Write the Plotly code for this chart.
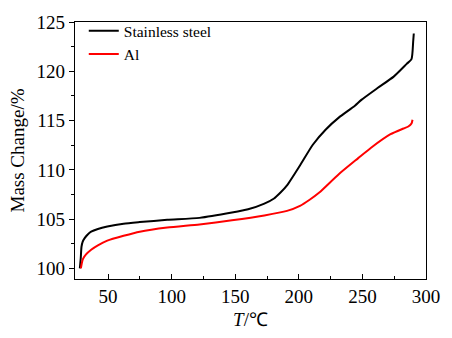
import plotly.graph_objects as go

# Stainless steel
ss_T = [27.8, 28.5, 29.1, 30.0, 31.6, 34.0, 36.7, 42.0, 49.4, 62.2, 74.9, 96.5,
        121.9, 147.4, 160.1, 172.9, 180.5, 185.6, 190.7, 200.9, 211.0, 221.2,
        231.4, 244.1, 249.2, 261.9, 274.6, 284.8, 288.6, 289.9, 290.4]
ss_M = [100.0, 101.0, 102.2, 102.7, 103.08, 103.45, 103.73, 104.0, 104.25, 104.54,
        104.70, 104.93, 105.13, 105.67, 106.0, 106.58, 107.1, 107.7, 108.43, 110.45,
        112.55, 114.1, 115.3, 116.5, 117.1, 118.3, 119.46, 120.75, 121.24, 123.0, 123.83]

# Al
al_T = [28.6, 29.3, 30.3, 32.5, 36.7, 42.0, 49.4, 62.2, 74.9, 96.5, 121.9, 147.4,
        172.9, 190.7, 200.9, 208.5, 216.1, 231.4, 246.7, 256.8, 272.1, 282.3, 286.1,
        288.6, 289.4]
al_M = [100.0, 100.5, 100.97, 101.4, 101.9, 102.35, 102.82, 103.31, 103.73, 104.15,
        104.47, 104.88, 105.38, 105.84, 106.35, 106.97, 107.7, 109.56, 111.19, 112.25,
        113.62, 114.2, 114.4, 114.7, 115.08]

x_ticks = [50, 100, 150, 200, 250, 300]
y_ticks = [100, 105, 110, 115, 120, 125]

FONT = "Times New Roman, Liberation Serif, serif"

fig = go.Figure()
fig.add_trace(go.Scatter(x=ss_T, y=ss_M, mode="lines", name="Stainless steel",
                         line=dict(color="#000000", width=2, shape="spline", smoothing=0.6)))
fig.add_trace(go.Scatter(x=al_T, y=al_M, mode="lines", name="Al",
                         line=dict(color="#ff0000", width=2, shape="spline", smoothing=0.6)))

fig.update_layout(
    width=452, height=338,
    margin=dict(l=75, r=15, t=13, b=57),
    paper_bgcolor="white", plot_bgcolor="white",
    font=dict(family=FONT, size=19, color="#000000"),
    showlegend=True,
    legend=dict(x=0.025, y=1.03, xanchor="left", yanchor="top",
                bgcolor="rgba(0,0,0,0)", borderwidth=0,
                font=dict(family=FONT, size=15.5, color="#000000"),
                tracegroupgap=0),
)
fig.update_xaxes(
    range=[24, 300], tickvals=x_ticks, ticktext=[str(v) for v in x_ticks],
    ticks="inside", ticklen=5, tickwidth=1, tickcolor="#000000",
    minor=dict(tickvals=[75, 125, 175, 225, 275], ticks="inside", ticklen=3,
               tickwidth=1, tickcolor="#000000"),
    showline=True, linecolor="#000000", linewidth=1.3, mirror=True,
    showgrid=False, zeroline=False,
    tickfont=dict(family=FONT, size=19, color="#000000"),
    title=dict(text="<i>T</i>/℃", font=dict(family=FONT, size=19), standoff=6),
)
fig.update_yaxes(
    range=[98.93, 125], tickvals=y_ticks, ticktext=[str(v) for v in y_ticks],
    ticks="outside", ticklen=5, tickwidth=1, tickcolor="#000000",
    minor=dict(tickvals=[102.5, 107.5, 112.5, 117.5, 122.5], ticks="outside",
               ticklen=3, tickwidth=1, tickcolor="#000000"),
    showline=True, linecolor="#000000", linewidth=1.3, mirror=True,
    showgrid=False, zeroline=False,
    tickfont=dict(family=FONT, size=19, color="#000000"),
    title=dict(text="Mass Change/%", font=dict(family=FONT, size=19), standoff=6),
)

fig.write_html("out.html")
